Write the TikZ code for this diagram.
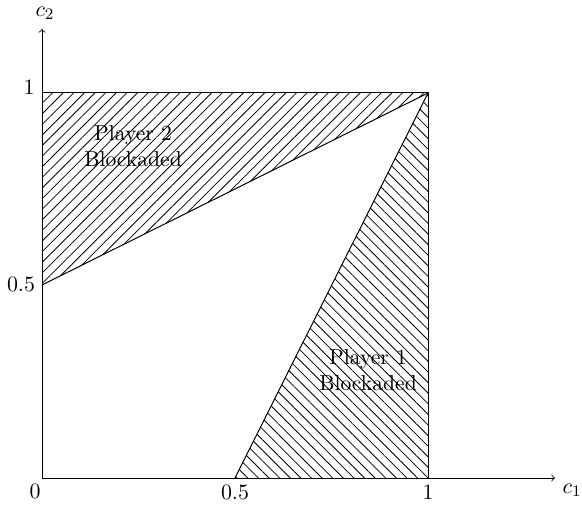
\documentclass[tikz,border=0pt]{standalone}
\usetikzlibrary{patterns.meta,arrows}
\begin{document}
\fontsize{10.8}{13.2}\selectfont
\begin{tikzpicture}[x=0.5pt,y=-0.5pt,
  axis/.style={->,>=to,line width=0.4pt},
  edge/.style={line width=0.5pt},
  hatchA/.style={pattern={Lines[angle=45,distance=3.75pt,line width=0.4pt]}},
  hatchB/.style={pattern={Lines[angle=-45,distance=3.75pt,line width=0.4pt]}},
  lbl/.style={inner sep=0pt,align=center,font=\fontsize{10.8}{13.2}\selectfont}]
\useasboundingbox (0,0) rectangle (582,506);
\coordinate (O) at (42,478);
\coordinate (X1) at (428,478);
\coordinate (Xh) at (235,478);
\coordinate (Y1) at (42,93);
\coordinate (Yh) at (42,285);
\coordinate (C) at (428,93);
\coordinate (Xe) at (555,478);
\coordinate (Ye) at (42,29);
% hatched regions
\fill[hatchA] (Y1) -- (C) -- (Yh) -- cycle;
\fill[hatchB] (Xh) -- (C) -- (X1) -- cycle;
% box and boundaries
\draw[edge] (Y1) -- (C) -- (X1);
\draw[edge] (Yh) -- (C);
\draw[edge] (Xh) -- (C);
% axes
\draw[axis] (O) -- (Xe);
\draw[axis] (O) -- (Ye);
% labels
\node[lbl] (lc1) at (572,490) {$c_1$};
\node[lbl] (lc2) at (45,13) {$c_2$};
\node[lbl] (l0) at (35,491) {$0$};
\node[lbl] (lxh) at (235,492) {$0.5$};
\node[lbl] (lx1) at (428,492) {$1$};
\node[lbl] (ly1) at (29,87) {$1$};
\node[lbl] (lyh) at (21,284) {$0.5$};
\node[lbl] (p2) at (133,146) {Player 2\\Blockaded};
\node[lbl] (p1) at (368,370) {Player 1\\Blockaded};
\end{tikzpicture}
\end{document}
